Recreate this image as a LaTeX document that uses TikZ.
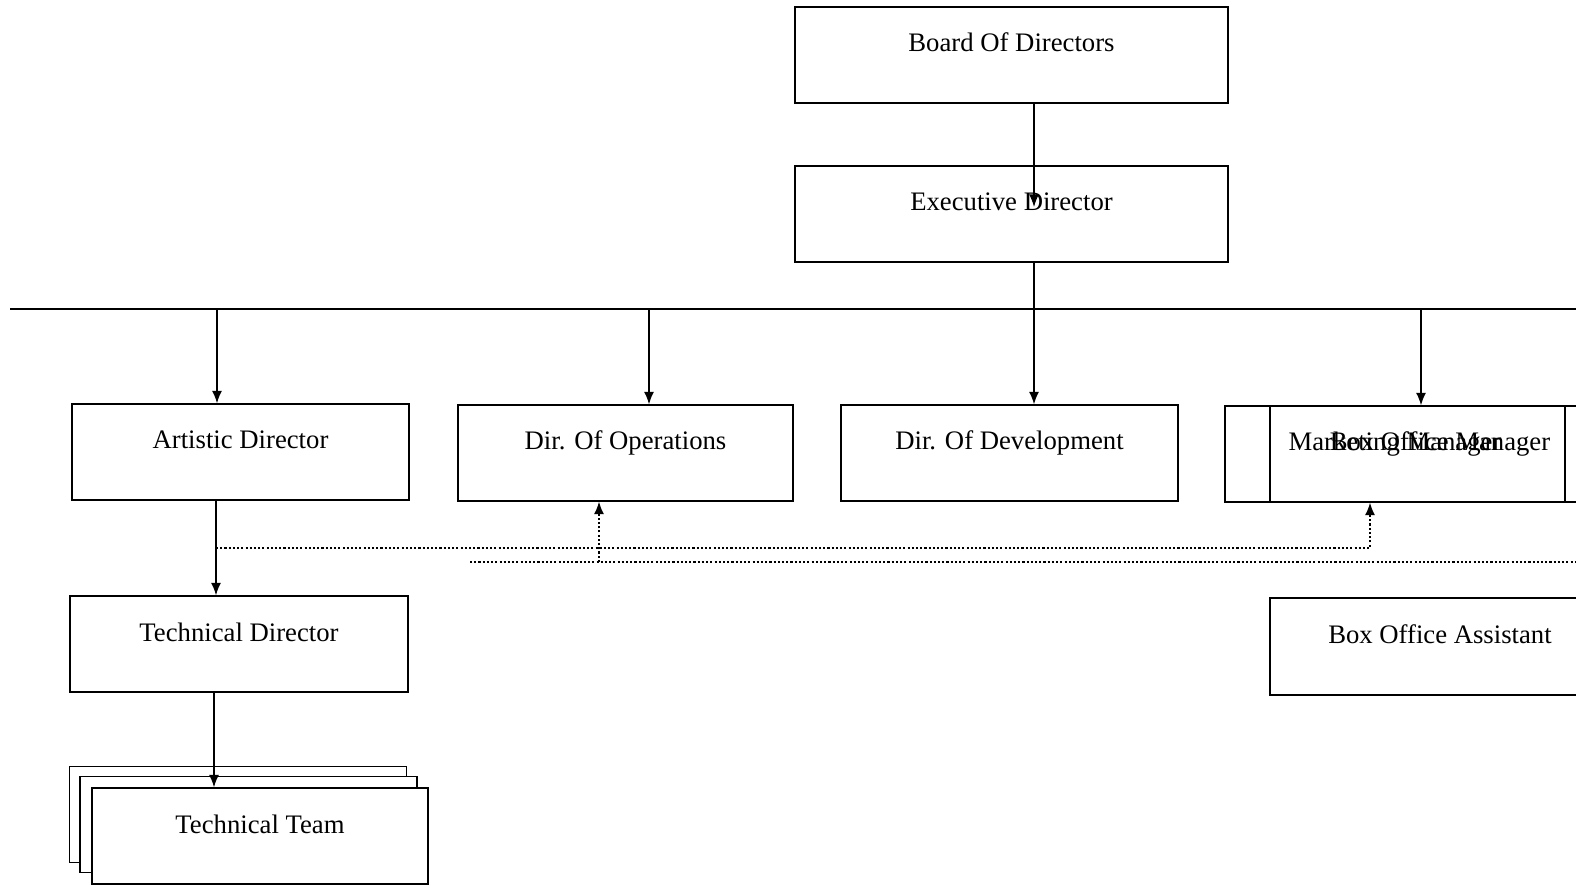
\documentclass[tikz,border=0pt]{standalone}
\usepackage{fontspec}
\setmainfont{Liberation Serif}
\usetikzlibrary{arrows.meta}

\begin{document}
\begin{tikzpicture}[x=0.02cm,y=-0.02cm,
    post/.style={draw,thick,minimum width=6.74cm,minimum height=1.92cm,inner sep=0pt,
      text height=0.9cm,text depth=1.02cm,font=\fontsize{15.2}{17}\selectfont},
    link/.style={-{Latex[length=2.5mm,width=2mm]},thick},
    dots/.style={dash pattern=on 1.2pt off 1.2pt,line width=1.2pt}]
    \useasboundingbox (0,0) rectangle (1576,891);
    \clip (0,0) rectangle (1576,891);

    % top of the chart
    \node[post,minimum width=8.66cm] (board) at (1011.5,55) {Board Of Directors};
    \node[post,minimum width=8.66cm] (exec) at (1011.5,214) {Executive Director};

    \coordinate (busL) at (10,309);
    \coordinate (busR) at (1576,309);
    \draw[thick] (busL) -- (busR);

    \coordinate (spine) at (1034,207);
    \draw[link] (board.south -| spine) -- (spine);

    % directors
    \node[post] (art) at (240.5,452) {Artistic Director};
    \node[post,minimum width=6.7cm] (ops) at (625.5,453) {Dir. Of Operations};
    \node[post] (dev) at (1009.5,453) {Dir. Of Development};
    \node[post,minimum width=6.8cm] (mkt) at (1395,454) {Marketing Manager};
    \node[post,minimum width=6.8cm] (boxmgr) at (1440,454) {Box Office Manager};

    \draw[link] (exec.south -| spine) -- (dev.north -| spine);
    \foreach \n/\x in {art/217,ops/649,mkt/1421}{
        \coordinate (drop-\n) at (\x,309);
        \draw[link] (drop-\n) -- (drop-\n |- \n.north);
    }

    % lower rows
    \node[post,minimum width=6.76cm] (tech) at (239,644) {Technical Director};
    \node[post,minimum width=6.8cm,minimum height=1.94cm] (boxasst) at (1440,646.5) {Box Office Assistant};

    \node[post,fill=white] (team3) at (238,814.5) {};
    \node[post,fill=white] (team2) at (248.5,824.5) {};
    \node[post,fill=white,minimum width=6.72cm] (team) at (260,836) {Technical Team};

    \coordinate (vArt) at (216,0);
    \coordinate (vTech) at (214,0);
    \draw[link] (vArt |- art.south) -- (vArt |- tech.north);
    \draw[link] (vTech |- tech.south) -- (vTech |- team.north);

    % dotted links
    \coordinate (tapM) at (1370,548);
    \draw[dots,link] (vArt |- tapM) -- (tapM) -- (tapM |- mkt.south);

    \coordinate (dotB) at (470,562);
    \coordinate (dotR) at (1576,562);
    \draw[dots] (dotB) -- (dotR);
    \coordinate (tapO) at (599,562);
    \draw[dots,link] (tapO) -- (tapO |- ops.south);
\end{tikzpicture}
\end{document}
